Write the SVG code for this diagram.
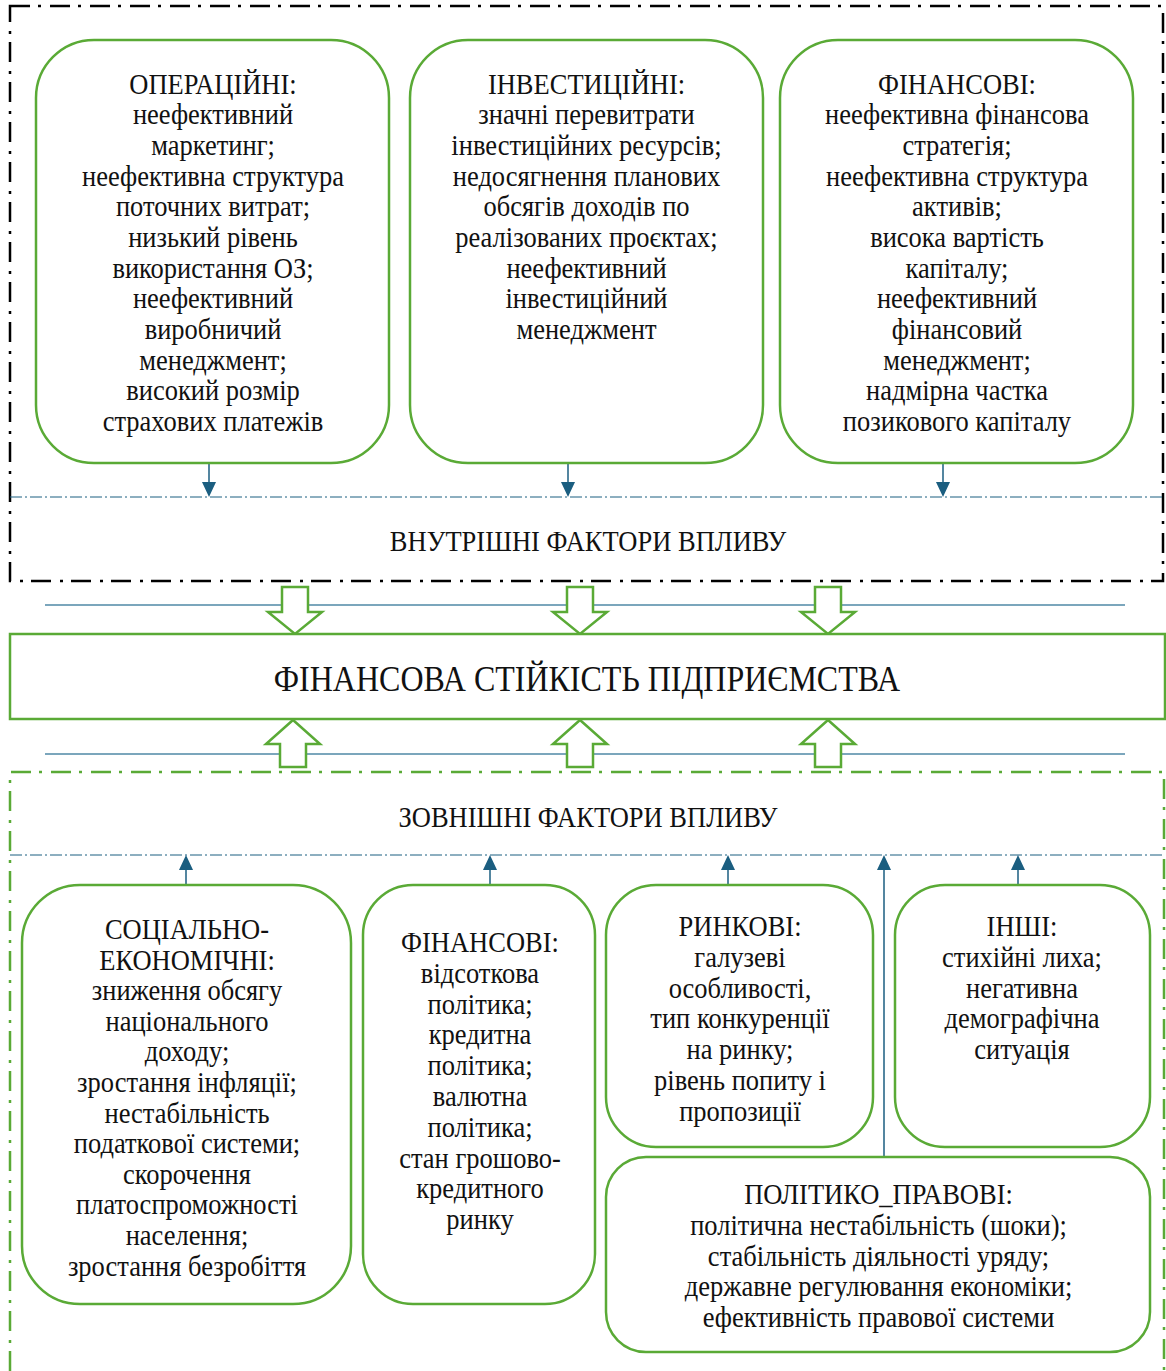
<svg xmlns="http://www.w3.org/2000/svg" width="1166" height="1371" viewBox="0 0 1166 1371">
<defs>
<style>
.bx{fill:#fff;stroke:#5aaa36;stroke-width:2.5}
.t{font-family:"Liberation Serif","Times New Roman",serif;font-size:26.5px;fill:#111;text-anchor:middle}
.ttl{font-family:"Liberation Serif","Times New Roman",serif;font-size:32px;fill:#111;text-anchor:middle}
.con{stroke:#1b5e80;stroke-width:1.5;fill:none}
.dd{stroke:#1b5e80;stroke-width:1;stroke-dasharray:12 3 2 3;fill:none}
.hl{stroke:#4f88a6;stroke-width:1.5}
.ha{fill:#fff;stroke:#5aaa36;stroke-width:2.5;stroke-linejoin:miter}
.ah{fill:#1b5e80}
</style>
</defs>
<rect width="1166" height="1371" fill="#fff"/>

<g id="internal-frame">
<rect x="10" y="6" width="1153" height="575" fill="none" stroke="#000" stroke-width="2.5" stroke-dasharray="20 8 3 9"/>
<line class="dd" x1="10" y1="497" x2="1163" y2="497"/>
<text class="t" transform="translate(588,550.5) scale(1,1.12)" x="0" y="0">ВНУТРІШНІ ФАКТОРИ ВПЛИВУ</text>
</g>

<g id="external-frame">
<path d="M10,1371 L10,772 L1164,772 L1164,1371" fill="none" stroke="#5aaa36" stroke-width="2.5" stroke-dasharray="20 8 3 9"/>
<line class="dd" x1="10" y1="855" x2="1164" y2="855"/>
<text class="t" transform="translate(588,827) scale(1,1.12)" x="0" y="0">ЗОВНІШНІ ФАКТОРИ ВПЛИВУ</text>
</g>

<g id="connectors">
<line class="hl" x1="45" y1="605" x2="1125" y2="605"/>
<line class="hl" x1="45" y1="754" x2="1125" y2="754"/>
<path class="ha" d="M282,587 H308 V612 H322 L295,634 L268,612 H282 Z"/>
<path class="ha" d="M567,587 H593 V612 H607 L580,634 L553,612 H567 Z"/>
<path class="ha" d="M815,587 H841 V612 H855 L828,634 L801,612 H815 Z"/>
<path class="ha" d="M280,767 H306 V744 H320 L293,720 L266,744 H280 Z"/>
<path class="ha" d="M567,767 H593 V744 H607 L580,720 L553,744 H567 Z"/>
<path class="ha" d="M815,767 H841 V744 H855 L828,720 L801,744 H815 Z"/>
<line class="con" x1="209" y1="463" x2="209" y2="482"/>
<path class="ah" d="M202,482 L216,482 L209,497 Z"/>
<line class="con" x1="568" y1="463" x2="568" y2="482"/>
<path class="ah" d="M561,482 L575,482 L568,497 Z"/>
<line class="con" x1="943" y1="463" x2="943" y2="482"/>
<path class="ah" d="M936,482 L950,482 L943,497 Z"/>
<line class="con" x1="186" y1="885" x2="186" y2="870"/>
<path class="ah" d="M179,870 L193,870 L186,855 Z"/>
<line class="con" x1="490" y1="885" x2="490" y2="870"/>
<path class="ah" d="M483,870 L497,870 L490,855 Z"/>
<line class="con" x1="728" y1="885" x2="728" y2="870"/>
<path class="ah" d="M721,870 L735,870 L728,855 Z"/>
<line class="con" x1="1018" y1="885" x2="1018" y2="870"/>
<path class="ah" d="M1011,870 L1025,870 L1018,855 Z"/>
<line class="con" x1="884" y1="1157" x2="884" y2="870"/>
<path class="ah" d="M877,870 L891,870 L884,855 Z"/>
</g>

<g id="main">
<rect class="bx" x="10" y="634" width="1155" height="85"/>
<text class="ttl" transform="translate(587,691) scale(1,1.15)" x="0" y="0">ФІНАНСОВА СТІЙКІСТЬ ПІДПРИЄМСТВА</text>
</g>

<g id="operational">
<rect class="bx" x="36" y="40" width="353" height="423" rx="58"/>
<text class="t" transform="translate(213,93.5) scale(1,1.12)" x="0" y="0">ОПЕРАЦІЙНІ:<tspan x="0" dy="27.41">неефективний</tspan><tspan x="0" dy="27.41">маркетинг;</tspan><tspan x="0" dy="27.41">неефективна структура</tspan><tspan x="0" dy="27.41">поточних витрат;</tspan><tspan x="0" dy="27.41">низький рівень</tspan><tspan x="0" dy="27.41">використання ОЗ;</tspan><tspan x="0" dy="27.41">неефективний</tspan><tspan x="0" dy="27.41">виробничий</tspan><tspan x="0" dy="27.41">менеджмент;</tspan><tspan x="0" dy="27.41">високий розмір</tspan><tspan x="0" dy="27.41">страхових платежів</tspan></text>
</g>

<g id="investment">
<rect class="bx" x="410" y="40" width="353" height="423" rx="58"/>
<text class="t" transform="translate(586.5,93.5) scale(1,1.12)" x="0" y="0">ІНВЕСТИЦІЙНІ:<tspan x="0" dy="27.41">значні перевитрати</tspan><tspan x="0" dy="27.41">інвестиційних ресурсів;</tspan><tspan x="0" dy="27.41">недосягнення планових</tspan><tspan x="0" dy="27.41">обсягів доходів по</tspan><tspan x="0" dy="27.41">реалізованих проєктах;</tspan><tspan x="0" dy="27.41">неефективний</tspan><tspan x="0" dy="27.41">інвестиційний</tspan><tspan x="0" dy="27.41">менеджмент</tspan></text>
</g>

<g id="financial-internal">
<rect class="bx" x="780" y="40" width="353" height="423" rx="58"/>
<text class="t" transform="translate(957,93.5) scale(1,1.12)" x="0" y="0">ФІНАНСОВІ:<tspan x="0" dy="27.41">неефективна фінансова</tspan><tspan x="0" dy="27.41">стратегія;</tspan><tspan x="0" dy="27.41">неефективна структура</tspan><tspan x="0" dy="27.41">активів;</tspan><tspan x="0" dy="27.41">висока вартість</tspan><tspan x="0" dy="27.41">капіталу;</tspan><tspan x="0" dy="27.41">неефективний</tspan><tspan x="0" dy="27.41">фінансовий</tspan><tspan x="0" dy="27.41">менеджмент;</tspan><tspan x="0" dy="27.41">надмірна частка</tspan><tspan x="0" dy="27.41">позикового капіталу</tspan></text>
</g>

<g id="socio-economic">
<rect class="bx" x="22" y="885" width="329" height="419" rx="58"/>
<text class="t" transform="translate(187,939) scale(1,1.12)" x="0" y="0">СОЦІАЛЬНО-<tspan x="0" dy="27.32">ЕКОНОМІЧНІ:</tspan><tspan x="0" dy="27.32">зниження обсягу</tspan><tspan x="0" dy="27.32">національного</tspan><tspan x="0" dy="27.32">доходу;</tspan><tspan x="0" dy="27.32">зростання інфляції;</tspan><tspan x="0" dy="27.32">нестабільність</tspan><tspan x="0" dy="27.32">податкової системи;</tspan><tspan x="0" dy="27.32">скорочення</tspan><tspan x="0" dy="27.32">платоспроможності</tspan><tspan x="0" dy="27.32">населення;</tspan><tspan x="0" dy="27.32">зростання безробіття</tspan></text>
</g>

<g id="financial-external">
<rect class="bx" x="363" y="885" width="232" height="419" rx="50"/>
<text class="t" transform="translate(480,952) scale(1,1.12)" x="0" y="0">ФІНАНСОВІ:<tspan x="0" dy="27.5">відсоткова</tspan><tspan x="0" dy="27.5">політика;</tspan><tspan x="0" dy="27.5">кредитна</tspan><tspan x="0" dy="27.5">політика;</tspan><tspan x="0" dy="27.5">валютна</tspan><tspan x="0" dy="27.5">політика;</tspan><tspan x="0" dy="27.5">стан грошово-</tspan><tspan x="0" dy="27.5">кредитного</tspan><tspan x="0" dy="27.5">ринку</tspan></text>
</g>

<g id="market">
<rect class="bx" x="606" y="885" width="267" height="262" rx="50"/>
<text class="t" transform="translate(740,936) scale(1,1.12)" x="0" y="0">РИНКОВІ:<tspan x="0" dy="27.5">галузеві</tspan><tspan x="0" dy="27.5">особливості,</tspan><tspan x="0" dy="27.5">тип конкуренції</tspan><tspan x="0" dy="27.5">на ринку;</tspan><tspan x="0" dy="27.5">рівень попиту і</tspan><tspan x="0" dy="27.5">пропозиції</tspan></text>
</g>

<g id="other">
<rect class="bx" x="895" y="885" width="255" height="262" rx="50"/>
<text class="t" transform="translate(1022,936) scale(1,1.12)" x="0" y="0">ІНШІ:<tspan x="0" dy="27.5">стихійні лиха;</tspan><tspan x="0" dy="27.5">негативна</tspan><tspan x="0" dy="27.5">демографічна</tspan><tspan x="0" dy="27.5">ситуація</tspan></text>
</g>

<g id="political-legal">
<rect class="bx" x="606" y="1157" width="544" height="195" rx="40"/>
<text class="t" transform="translate(878.5,1204) scale(1,1.12)" x="0" y="0">ПОЛІТИКО_ПРАВОВІ:<tspan x="0" dy="27.5">політична нестабільність (шоки);</tspan><tspan x="0" dy="27.5">стабільність діяльності уряду;</tspan><tspan x="0" dy="27.5">державне регулювання економіки;</tspan><tspan x="0" dy="27.5">ефективність правової системи</tspan></text>
</g>
</svg>
